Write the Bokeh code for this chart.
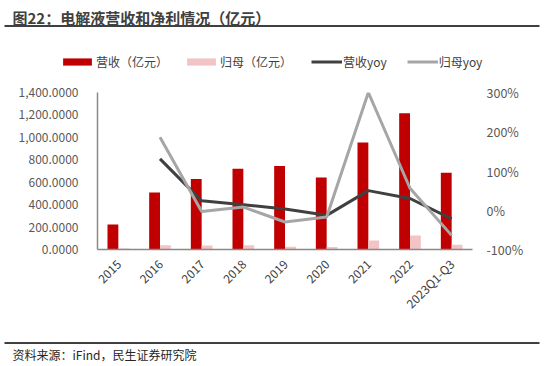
from math import pi
import numpy as np
from bokeh.plotting import figure
from bokeh.layouts import column
from bokeh.models import (FactorRange, Range1d, LinearAxis, NumeralTickFormatter,
                          PrintfTickFormatter, FixedTicker, Legend, LegendItem, Label,
                          ColumnDataSource)
from bokeh.transform import dodge
from bokeh.embed import file_html
from bokeh.resources import INLINE

categories = ["2015", "2016", "2017", "2018", "2019", "2020", "2021", "2022", "2023Q1-Q3"]
revenue = [223, 509, 628, 720, 744, 643, 955, 1214, 685]
net_profit = [8, 38, 35, 38, 25, 22, 80, 125, 42]
yoy_cats = ["2016", "2017", "2018", "2019", "2020", "2021", "2022", "2023Q1-Q3"]
revenue_yoy = [131, 24, 14, 3, -13, 50, 30, -22]
profit_yoy = [186, -3, 8, -30, -17, 300, 56, -64]

title_text = "图22：电解液营收和净利情况（亿元）"
source_text = "资料来源：iFind，民生证券研究院"
legend_labels = ["营收（亿元）", "归母（亿元）", "营收yoy", "归母yoy"]

FONT = "Noto Sans CJK SC"
RED = "#C00000"
PINK = "#F2C4C5"
DARK = "#404040"
GRAY = "#A6A6A6"
RULE = "#404040"
W = 545


def blank_fig(h):
    f = figure(width=W, height=h, x_range=Range1d(0, W), y_range=Range1d(0, h),
               output_backend="svg", toolbar_location=None,
               x_axis_location=None, y_axis_location=None,
               min_border=0, min_border_left=0, min_border_right=0,
               min_border_top=0, min_border_bottom=0, frame_align=False)
    f.outline_line_color = None
    f.xgrid.grid_line_color = None
    f.ygrid.grid_line_color = None
    return f


# ---------- header: title, rule, legend ----------
top = blank_fig(80)
top.add_layout(Label(x=12, y=80 - 16.5, text=title_text, text_font=FONT,
                     text_font_size="15px", text_font_style="bold", text_color="#404040",
                     text_baseline="middle"))
top.segment(x0=[4], y0=[80 - 25.5], x1=[539], y1=[80 - 25.5], line_color=RULE, line_width=2)

# legend proxies: one NaN row each, so nothing is drawn in the frame
proxy = ColumnDataSource(dict(x=np.array([np.nan]), y=np.array([np.nan])))
d_rev = top.vbar(x="x", top="y", width=1, source=proxy, fill_color=RED, line_color=None)
d_np = top.vbar(x="x", top="y", width=1, source=proxy, fill_color=PINK, line_color=None)
d_ry = top.line(x="x", y="y", source=proxy, line_color=DARK, line_width=3)
d_py = top.line(x="x", y="y", source=proxy, line_color=GRAY, line_width=3)

leg1 = Legend(items=[LegendItem(label=legend_labels[0], renderers=[d_rev], index=0),
                     LegendItem(label=legend_labels[1], renderers=[d_np], index=0)],
              orientation="horizontal", location=(59, 10), glyph_width=36, glyph_height=9,
              spacing=15, label_standoff=1, padding=0, margin=0)
leg2 = Legend(items=[LegendItem(label=legend_labels[2], renderers=[d_ry], index=0),
                     LegendItem(label=legend_labels[3], renderers=[d_py], index=0)],
              orientation="horizontal", location=(311, 10), glyph_width=31, glyph_height=9,
              spacing=20, label_standoff=1, padding=0, margin=0)
for lg in (leg1, leg2):
    lg.border_line_color = None
    lg.background_fill_alpha = 0
    lg.label_text_font = FONT
    lg.label_text_font_size = "12px"
    lg.label_text_color = "#404040"
    lg.label_height = 16
    top.add_layout(lg, "center")

# ---------- main chart ----------
bars = ColumnDataSource(dict(cat=categories, rev=revenue, np=net_profit))
lines = ColumnDataSource(dict(cat=yoy_cats, ry=revenue_yoy, py=profit_yoy))

p = figure(width=W, height=252, x_range=FactorRange(*categories),
           y_range=Range1d(0, 1400), output_backend="svg", toolbar_location=None,
           min_border_left=97, min_border_right=73, min_border_top=12, min_border_bottom=83,
           frame_align=False)
p.outline_line_color = None
p.xgrid.grid_line_color = None
p.ygrid.grid_line_color = None
p.extra_y_ranges = {"pct": Range1d(-100, 300)}

p.vbar(x=dodge("cat", -0.13, range=p.x_range), top="rev", width=0.26,
       source=bars, fill_color=RED, line_color=None)
p.vbar(x=dodge("cat", 0.13, range=p.x_range), top="np", width=0.26,
       source=bars, fill_color=PINK, line_color=None)
p.line(x="cat", y="ry", source=lines, y_range_name="pct", line_color=DARK, line_width=3)
p.line(x="cat", y="py", source=lines, y_range_name="pct", line_color=GRAY, line_width=3)

ya = p.yaxis[0]
ya.ticker = FixedTicker(ticks=[0, 200, 400, 600, 800, 1000, 1200, 1400])
ya.formatter = NumeralTickFormatter(format="0,0.0000")
ya.axis_line_color = "#898989"
ya.axis_line_width = 1.5
ya.major_tick_line_color = None
ya.minor_tick_line_color = None
ya.major_label_text_font = FONT
ya.major_label_text_font_size = "12px"
ya.major_label_text_color = "#595959"
ya.major_label_standoff = 13

ra = LinearAxis(y_range_name="pct", ticker=FixedTicker(ticks=[-100, 0, 100, 200, 300]),
                formatter=PrintfTickFormatter(format="%d%%"))
ra.axis_line_color = None
ra.major_tick_line_color = None
ra.minor_tick_line_color = None
ra.major_label_text_font = FONT
ra.major_label_text_font_size = "12.5px"
ra.major_label_text_color = "#595959"
ra.major_label_standoff = 8
p.add_layout(ra, "right")

xa = p.xaxis[0]
xa.axis_line_color = "#898989"
xa.axis_line_width = 1.5
xa.major_tick_line_color = None
xa.minor_tick_line_color = None
xa.major_label_orientation = pi / 4
xa.major_label_text_font = FONT
xa.major_label_text_font_size = "12px"
xa.major_label_text_color = "#404040"
xa.major_label_standoff = 6

# ---------- footer: rule and source ----------
bot = blank_fig(32)
bot.segment(x0=[4], y0=[32 - 10.5], x1=[539], y1=[32 - 10.5], line_color=RULE, line_width=2)
bot.add_layout(Label(x=12, y=32 - 22, text=source_text, text_font=FONT,
                     text_font_size="12px", text_color="#262626", text_baseline="middle"))

layout = column(top, p, bot, spacing=0)
open("out.html", "w").write(file_html(layout, INLINE))
